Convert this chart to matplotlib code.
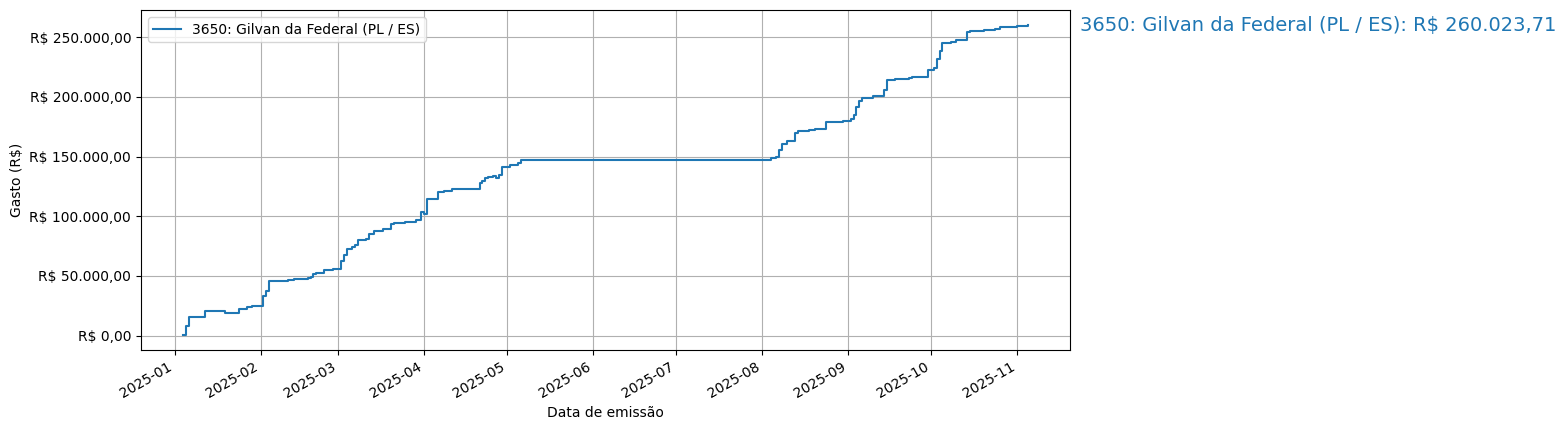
import matplotlib
matplotlib.use("Agg")
import matplotlib.pyplot as plt
import matplotlib.ticker as mticker
import pandas as pd

label = "3650: Gilvan da Federal (PL / ES)"

datas = [
    "2025-01-04", "2025-01-05", "2025-01-06", "2025-01-12", "2025-01-19",
    "2025-01-24", "2025-01-27", "2025-01-29", "2025-02-01", "2025-02-02",
    "2025-02-03", "2025-02-04", "2025-02-11", "2025-02-13", "2025-02-18",
    "2025-02-19", "2025-02-20", "2025-02-21", "2025-02-24", "2025-02-27",
    "2025-03-02", "2025-03-03", "2025-03-04", "2025-03-06", "2025-03-07",
    "2025-03-08", "2025-03-11", "2025-03-12", "2025-03-14", "2025-03-17",
    "2025-03-20", "2025-03-21", "2025-03-25", "2025-03-29", "2025-03-31",
    "2025-04-01", "2025-04-02", "2025-04-06", "2025-04-08", "2025-04-11",
    "2025-04-15", "2025-04-21", "2025-04-22", "2025-04-23", "2025-04-24",
    "2025-04-26", "2025-04-27", "2025-04-28", "2025-04-29", "2025-05-02",
    "2025-05-05", "2025-05-06", "2025-08-04", "2025-08-06", "2025-08-07",
    "2025-08-08", "2025-08-10", "2025-08-13", "2025-08-14", "2025-08-18",
    "2025-08-20", "2025-08-24", "2025-08-30", "2025-09-02", "2025-09-03",
    "2025-09-04", "2025-09-05", "2025-09-06", "2025-09-10", "2025-09-14",
    "2025-09-15", "2025-09-18", "2025-09-23", "2025-09-24", "2025-09-30",
    "2025-10-02", "2025-10-03", "2025-10-04", "2025-10-05", "2025-10-08",
    "2025-10-10", "2025-10-14", "2025-10-15", "2025-10-17", "2025-10-20",
    "2025-10-24", "2025-10-26", "2025-11-01", "2025-11-05",
]

# gasto acumulado (R$)
acumulado = [
    900, 7800, 15300, 20300, 18700,
    22000, 23700, 24500, 25100, 32900,
    37700, 45500, 46300, 47100, 48000,
    49400, 51300, 52700, 55000, 56100,
    62200, 67500, 72600, 74500, 76200,
    80400, 81200, 85100, 88100, 89000,
    93500, 94300, 94900, 96500, 103500,
    102300, 114900, 120000, 121100, 122500,
    123300, 128300, 130000, 132000, 133000,
    133900, 131800, 134600, 141000, 143300,
    145000, 146900, 148800, 149400, 155300,
    160300, 163100, 169800, 171500, 172400,
    173200, 179100, 180200, 181300, 185300,
    191600, 196700, 199200, 200400, 205700,
    214000, 214900, 215800, 216900, 222500,
    223900, 231700, 238200, 245400, 246200,
    247700, 254200, 255000, 255500, 256400,
    257200, 258800, 259700, 260023.71,
]


def brl(v):
    s = f"{v:,.2f}"
    return "R$ " + s.replace(",", "X").replace(".", ",").replace("X", ".")


def main():
    x = pd.to_datetime(datas)
    fig, ax = plt.subplots(figsize=(15.65, 4.3), dpi=100)
    fig.subplots_adjust(left=0.09, right=0.684, top=0.977, bottom=0.186)

    ax.step(x, acumulado, where="post", color="C0", label=label)
    ax.text(1.01, acumulado[-1], f"{label}: {brl(acumulado[-1])}",
            transform=ax.get_yaxis_transform(), color="C0",
            fontsize=14, va="center", ha="left")

    ax.yaxis.set_major_formatter(mticker.FuncFormatter(lambda v, p: brl(v)))
    ax.set_xlabel("Data de emissão")
    ax.set_ylabel("Gasto (R$)")
    ax.grid(True)
    ax.legend(loc="upper left")
    fig.autofmt_xdate()
    fig.subplots_adjust(left=0.09, right=0.684, top=0.977, bottom=0.186)
    fig.savefig("out.png")


if __name__ == "__main__":
    main()
